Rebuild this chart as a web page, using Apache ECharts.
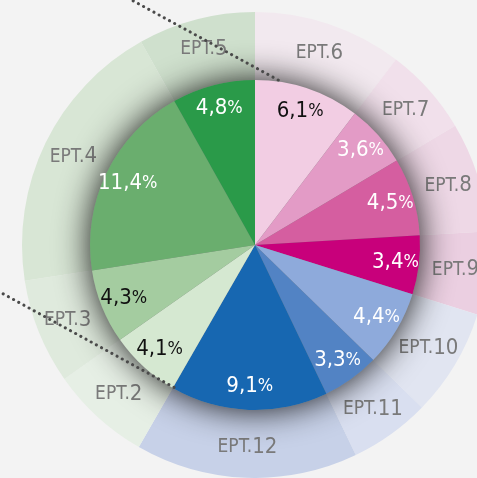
<!DOCTYPE html>
<html>
<head>
<meta charset="utf-8">
<style>
html,body{margin:0;padding:0;background:#f3f3f3;}
#c{width:477px;height:478px;}
</style>
<script src="https://cdn.jsdelivr.net/npm/echarts@6/dist/echarts.min.js"></script>
</head>
<body>
<div id="c"></div>
<script>
// Data (clockwise from 12 o'clock)
const categories = ['EPT.6','EPT.7','EPT.8','EPT.9','EPT.10','EPT.11','EPT.12','EPT.2','EPT.3','EPT.4','EPT.5'];
const shares = [6.1, 3.6, 4.5, 3.4, 4.4, 3.3, 9.1, 4.1, 4.3, 11.4, 4.8];

// Styles
const innerColors = ['#f2cde3','#e39bc6','#d55ea0','#c8007b','#8eaadb','#5283c4','#1767b1','#d5e8d1','#a4cca0','#6aae6e','#2a9a49'];
const ringColors  = ['#f2e9ef','#f1e0eb','#eed8e6','#ebcfe1','#e1e5f1','#d9dff0','#c7d1e8','#e6efe5','#dfeadd','#d8e6d5','#cfe0cd'];
const labelColors = ['#111','#fff','#fff','#fff','#fff','#fff','#fff','#111','#111','#fff','#fff'];

const FONT = '"Liberation Sans Narrow","Arial Narrow","DejaVu Sans Condensed",sans-serif';
const CENTER = [255, 245];

const fmt = v => v.toFixed(1).replace('.', ',');

const chart = echarts.init(document.getElementById('c'), null, {renderer: 'canvas'});

chart.setOption({
  backgroundColor: '#f3f3f3',
  animation: false,
  graphic: [
    {type: 'polyline', z: 100, silent: true,
     shape: {points: [[128, -2], [280, 81]]},
     style: {stroke: '#4a4a4a', lineWidth: 3, lineDash: [0.1, 5.8], lineCap: 'round', fill: null}},
    {type: 'polyline', z: 100, silent: true,
     shape: {points: [[-2, 291], [177, 389]]},
     style: {stroke: '#4a4a4a', lineWidth: 3, lineDash: [0.1, 5.8], lineCap: 'round', fill: null}}
  ],
  series: [
    {
      type: 'pie', z: 1, silent: true, center: CENTER, radius: [165, 233],
      startAngle: 90, clockwise: true, avoidLabelOverlap: false,
      data: categories.map((n, i) => ({name: n, value: shares[i], itemStyle: {color: ringColors[i]}})),
      label: {
        show: true, position: 'inside',
        formatter: p => '{a|' + p.name.replace(/\d+$/, '') + '}{b|' + p.name.match(/\d+$/)[0] + '}',
        rich: {
          a: {fontFamily: FONT, fontSize: 19, color: '#7a7a7a'},
          b: {fontFamily: FONT, fontSize: 22, color: '#7a7a7a'}
        }
      },
      labelLine: {show: false}
    },
    {
      type: 'pie', z: 2, silent: true, center: CENTER, radius: [0, 165],
      data: [{value: 1, name: 'shadow', itemStyle: {color: '#888', shadowBlur: 34, shadowColor: 'rgba(0,0,0,0.9)'}}],
      label: {show: false}, labelLine: {show: false}
    },
    {
      type: 'pie', z: 3, silent: true, center: CENTER, radius: [0, 165],
      startAngle: 90, clockwise: true,
      data: categories.map((n, i) => ({name: n, value: shares[i], itemStyle: {color: innerColors[i]}})),
      label: {show: false}, labelLine: {show: false}
    },
    {
      type: 'pie', z: 4, silent: true, center: CENTER, radius: [112, 165],
      startAngle: 90, clockwise: true, avoidLabelOverlap: false,
      data: categories.map((n, i) => ({name: n, value: shares[i], itemStyle: {color: 'rgba(0,0,0,0)'},
        label: {color: labelColors[i]}})),
      label: {
        show: true, position: 'inside',
        formatter: p => '{a|' + fmt(p.value) + '}{b|%}',
        rich: {
          a: {fontFamily: FONT, fontSize: 22},
          b: {fontFamily: FONT, fontSize: 18}
        }
      },
      labelLine: {show: false}
    }
  ]
});
</script>
</body>
</html>
